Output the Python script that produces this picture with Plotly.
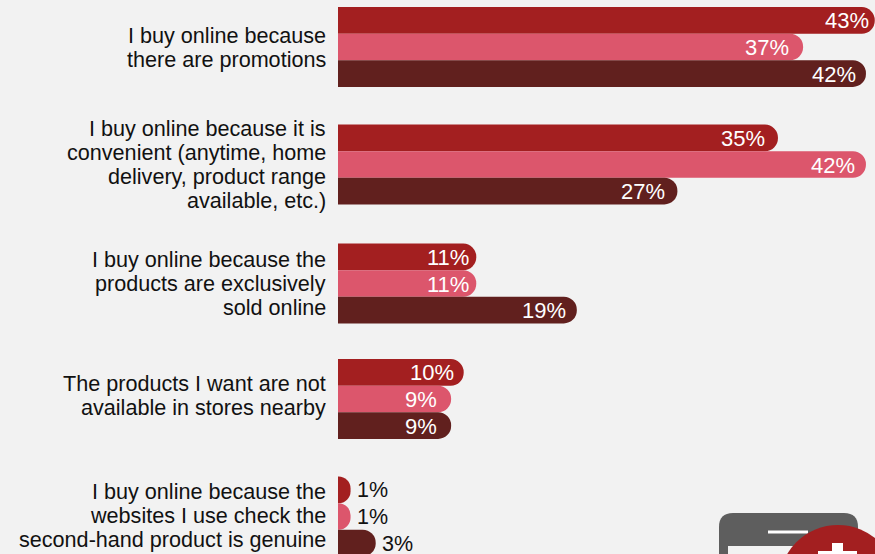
import plotly.graph_objects as go

category_lines = [["I buy online because", "there are promotions"],
                  ["I buy online because it is", "convenient (anytime, home", "delivery, product range", "available, etc.)"],
                  ["I buy online because the", "products are exclusively", "sold online"],
                  ["The products I want are not", "available in stores nearby"],
                  ["I buy online because the", "websites I use check the", "second-hand product is genuine"]]
s1 = [42.7, 35, 11, 10, 1]
s2 = [37, 42, 11, 9, 1]
s3 = [42, 27, 19, 9, 3]
colors = ["#a31f20", "#dc566c", "#61201e"]
ypos = [47, 164.5, 283.5, 399, 516.5]
label_y = [47.5, 164.5, 283.5, 395.5, 515.5]
offs = [-26.6, 0, 26.6]
label_pads = [[6, 13, 7, 10, 6], [14, 11, 7, 14, 6], [10, 12, 11, 14, 6]]
BG = "#f2f2f2"

fig = go.Figure()
for vals, c, o, pads in zip([s1, s2, s3], colors, offs, label_pads):
    ys = [p + o for p in ypos]
    fig.add_trace(go.Bar(
        y=ys, x=vals, orientation="h", width=26.6,
        marker=dict(color=c, line=dict(width=0), cornerradius=13),
        cliponaxis=False, showlegend=False))
    for v, y, pad in zip(vals, ys, pads):
        inside = v > 5
        fig.add_annotation(x=v, y=y, xref="x", yref="y", text=f"{round(v)}%", showarrow=False,
                           xanchor="right" if inside else "left", yanchor="middle",
                           xshift=-pad + 2 if inside else pad - 2, yshift=-0.5,
                           font=dict(size=22 if inside else 21.5, color="white" if inside else "#111111"))

for lines, cy in zip(category_lines, label_y):
    n = len(lines)
    for i, t in enumerate(lines):
        fig.add_annotation(x=0, y=cy + (i - (n - 1) / 2) * 24, xref="x", yref="y", text=t,
                           showarrow=False, xanchor="right", yanchor="middle", xshift=-10,
                           font=dict(size=21.6, color="#111111"))

def fx(px):
    return (px - 338) / 537

icon = [
    dict(type="path", line_width=0, fillcolor="#5e5e5e",
         path=f"M {fx(719)} 600 L {fx(719)} 527 Q {fx(719)} 513 {fx(733)} 513 "
              f"L {fx(844)} 513 Q {fx(858)} 513 {fx(858)} 527 L {fx(858)} 600 Z"),
    dict(type="rect", line_width=0, fillcolor=BG, x0=fx(728), x1=fx(849), y0=546, y1=600),
    dict(type="rect", line_width=0, fillcolor="white", x0=fx(768), x1=fx(808), y0=530.5, y1=533.5),
    dict(type="circle", line_width=0, fillcolor="#a31f20", x0=fx(779), x1=fx(897), y0=525, y1=643),
    dict(type="rect", line_width=0, fillcolor="white", x0=fx(832), x1=fx(843), y0=543, y1=600),
    dict(type="rect", line_width=0, fillcolor="white", x0=fx(818), x1=fx(857), y0=551, y1=600),
]
for s in icon:
    s.update(xref="paper", yref="y", layer="above")

fig.update_layout(
    width=875, height=554, margin=dict(l=338, r=0, t=0, b=0, pad=0),
    paper_bgcolor=BG, plot_bgcolor=BG, barmode="overlay", shapes=icon,
    font=dict(family="Liberation Sans, Arial", size=21, color="#111111"),
    xaxis=dict(range=[0, 42.72], visible=False),
    yaxis=dict(range=[554, 0], showticklabels=False, showgrid=False,
               zeroline=False, showline=False, ticks=""))
fig.write_html("out.html", config=dict(displayModeBar=False),
               post_script="document.body.style.margin='0';document.body.style.background='#f2f2f2';document.body.style.overflow='hidden';")
